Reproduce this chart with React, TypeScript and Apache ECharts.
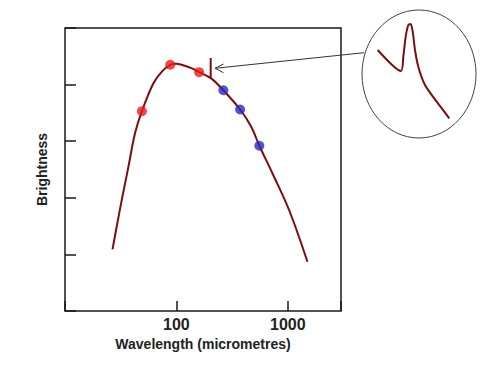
import React, { useEffect, useRef } from "react";
import * as echarts from "echarts";

// Main fitted curve (wavelength in micrometres, brightness in arbitrary units)
const curveWavelength = [26.7, 29.1, 32.3, 37.1, 42.5, 49, 62, 74, 88, 100, 111, 136, 160, 205, 264, 373, 468, 555, 729, 1028, 1500];
const curveBrightness = [1.09, 1.49, 1.96, 2.55, 3.14, 3.53, 4.02, 4.23, 4.35, 4.37, 4.35, 4.29, 4.22, 4.11, 3.9, 3.56, 3.26, 2.92, 2.43, 1.78, 0.87];

// Red observations
const redWavelength = [49, 88, 160];
const redBrightness = [3.53, 4.35, 4.22];

// Blue observations
const blueWavelength = [264, 373, 555];
const blueBrightness = [3.9, 3.56, 2.92];

// Spectral line spike
const spikeWavelength = [203, 203];
const spikeBrightness = [4.12, 4.47];

// Magnified inset (arbitrary units)
const insetX = [7.7, 31, 33.3, 35.7, 38.3, 40.7, 42.7, 45, 48.3, 55, 66.7, 79.3];
const insetY = [75, 54, 68.3, 88.3, 100, 101, 93.3, 75, 58.3, 40, 23.3, 6.7];

// Axis tick labels
const xTickLabels = [100, 1000];

const zip = (a: number[], b: number[]) => a.map((v, i) => [v, b[i]]);

export default function App() {
  const ref = useRef<HTMLDivElement>(null);
  useEffect(() => {
    if (!ref.current) return;
    const chart = echarts.init(ref.current, null, { renderer: "svg" });
    const curveColor = "#7d0c0c";
    chart.setOption({
      animation: false,
      backgroundColor: "#ffffff",
      grid: [
        {
          left: 65,
          top: 28,
          width: 276,
          height: 283,
          show: true,
          borderColor: "#1a1a1a",
          borderWidth: 1.5,
          backgroundColor: "transparent",
        },
        { left: 370, top: 20, width: 90, height: 105, show: false },
      ],
      xAxis: [
        {
          type: "log",
          gridIndex: 0,
          min: 10,
          max: 3000,
          logBase: 10,
          name: "Wavelength (micrometres)",
          nameLocation: "middle",
          nameGap: 24,
          nameTextStyle: { fontFamily: "Liberation Sans", fontWeight: "bold", fontSize: 14, color: "#222" },
          axisLine: { show: false },
          axisTick: { show: true, inside: true, length: 10, lineStyle: { color: "#1a1a1a", width: 1.5 } },
          axisLabel: {
            margin: 5,
            fontFamily: "Liberation Sans",
            fontWeight: "bold",
            fontSize: 16,
            color: "#222",
            formatter: (v: number) => {
              const r = Math.round(v);
              return xTickLabels.includes(r) ? String(r) : "";
            },
          },
          splitLine: { show: false },
        },
        { type: "value", gridIndex: 1, min: 0, max: 90, show: false },
      ],
      yAxis: [
        {
          type: "value",
          gridIndex: 0,
          min: 0,
          max: 5,
          interval: 1,
          name: "Brightness",
          nameLocation: "middle",
          nameGap: 16,
          nameRotate: 90,
          nameTextStyle: { fontFamily: "Liberation Sans", fontWeight: "bold", fontSize: 14, color: "#222" },
          axisLine: { show: false },
          axisTick: { show: true, inside: true, length: 11, lineStyle: { color: "#1a1a1a", width: 1.5 } },
          axisLabel: { show: false },
          splitLine: { show: false },
        },
        { type: "value", gridIndex: 1, min: 0, max: 105, show: false },
      ],
      series: [
        {
          type: "line",
          xAxisIndex: 0,
          yAxisIndex: 0,
          data: zip(curveWavelength, curveBrightness),
          smooth: 0.35,
          showSymbol: false,
          lineStyle: { color: curveColor, width: 2 },
          z: 2,
        },
        {
          type: "line",
          xAxisIndex: 0,
          yAxisIndex: 0,
          data: zip(spikeWavelength, spikeBrightness),
          showSymbol: false,
          lineStyle: { color: curveColor, width: 2 },
          z: 2,
        },
        {
          type: "scatter",
          xAxisIndex: 0,
          yAxisIndex: 0,
          data: zip(redWavelength, redBrightness),
          symbolSize: 10,
          itemStyle: { color: "#ea1c1c" },
          z: 3,
        },
        {
          type: "scatter",
          xAxisIndex: 0,
          yAxisIndex: 0,
          data: zip(blueWavelength, blueBrightness),
          symbolSize: 10,
          itemStyle: { color: "#2b2bbd" },
          z: 3,
        },
        {
          type: "line",
          xAxisIndex: 1,
          yAxisIndex: 1,
          data: zip(insetX, insetY),
          smooth: 0.25,
          showSymbol: false,
          lineStyle: { color: curveColor, width: 2 },
        },
      ],
      graphic: [
        {
          type: "ellipse",
          shape: { cx: 419, cy: 74, rx: 57, ry: 64 },
          style: { fill: "none", stroke: "#444", lineWidth: 1 },
        },
        {
          type: "line",
          shape: { x1: 364, y1: 52.7, x2: 215, y2: 68.3 },
          style: { stroke: "#333", lineWidth: 1 },
        },
        {
          type: "polyline",
          shape: { points: [[223.5, 64], [215, 68.3], [223.5, 72.7]] },
          style: { stroke: "#333", lineWidth: 1, fill: "none" },
        },
      ],
    });
    return () => chart.dispose();
  }, []);
  return <div ref={ref} style={{ position: "fixed", left: 0, top: 0, width: 500, height: 375 }} />;
}
